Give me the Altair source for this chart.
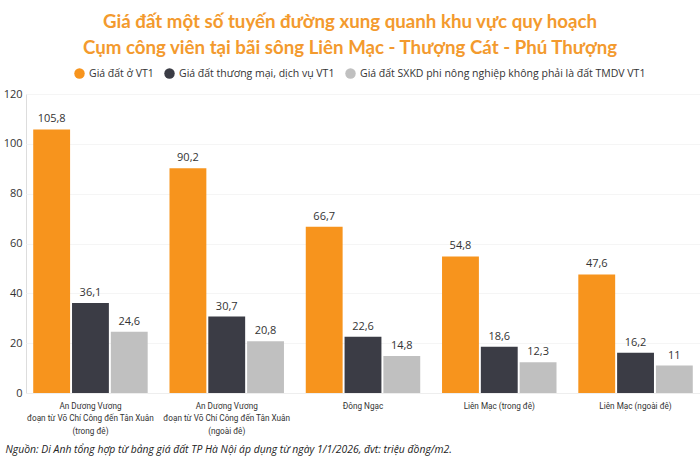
import altair as alt
import pandas as pd

# Road segments (x-axis groups); "|" marks a line break in the axis label
roads = [
    "An Dương Vương|đoạn từ Võ Chí Công đến Tân Xuân|(trong đê)",
    "An Dương Vương|đoạn từ Võ Chí Công đến Tân Xuân|(ngoài đê)",
    "Đông Ngạc",
    "Liên Mạc (trong đê)",
    "Liên Mạc (ngoài đê)",
]

series = [
    "Giá đất ở VT1",
    "Giá đất thương mại, dịch vụ VT1",
    "Giá đất SXKD phi nông nghiệp không phải là đất TMDV VT1",
]
colors = ["#F7941D", "#3B3C45", "#C0C0C0"]

# Prices, million VND per m2
residential = [105.8, 90.2, 66.7, 54.8, 47.6]
commercial = [36.1, 30.7, 22.6, 18.6, 16.2]
non_agri = [24.6, 20.8, 14.8, 12.3, 11.0]

rows = []
for vals, name in zip([residential, commercial, non_agri], series):
    for road, v in zip(roads, vals):
        txt = f"{v:g}".replace(".", ",")
        rows.append({"road": road, "series": name, "value": v, "label": txt})
df = pd.DataFrame(rows)

LEFT, TOP = 26, 94
W, H = 674, 299

x_enc = alt.X(
    "road:N",
    sort=roads,
    scale=alt.Scale(paddingInner=0.16, paddingOuter=0.053),
    axis=alt.Axis(
        title="Nguồn: Di Anh tổng hợp từ bảng giá đất TP Hà Nội áp dụng từ ngày 1/1/2026, đvt: triệu đồng/m2.",
        titleFont="Open Sans",
        titleFontSize=10.4,
        titleFontWeight="normal",
        titleFontStyle="italic",
        titleColor="#222222",
        titleAnchor="start",
        titleAlign="left",
        titleBaseline="middle",
        titleX=-21,
        titleY=56,
        labelAngle=0,
        labelExpr="split(datum.label, '|')",
        labelFont="Roboto",
        labelFontSize=8.2,
        labelColor="#333333",
        labelLineHeight=12.5,
        labelPadding=9,
        labelLimit=250,
        ticks=False,
        domain=True,
        domainColor="#eeeeee",
    ),
)
xo_enc = alt.XOffset(
    "series:N", sort=series, scale=alt.Scale(paddingInner=0.05)
)

bars = alt.Chart(df).mark_bar().encode(
    x=x_enc,
    xOffset=xo_enc,
    y=alt.Y(
        "value:Q",
        scale=alt.Scale(domain=[0, 120]),
        axis=alt.Axis(
            title=None,
            values=[0, 20, 40, 60, 80, 100, 120],
            labelFont="Open Sans",
            labelFontSize=11,
            labelColor="#333333",
            labelPadding=4,
            ticks=False,
            domain=False,
            grid=True,
            gridColor="#f5f5f5",
        ),
    ),
    color=alt.Color(
        "series:N",
        sort=series,
        scale=alt.Scale(domain=series, range=colors),
        legend=alt.Legend(
            title=None,
            orient="none",
            legendX=48,
            legendY=-26,
            direction="horizontal",
            symbolType="circle",
            symbolSize=110,
            symbolStrokeWidth=0,
            labelFont="Open Sans",
            labelFontSize=10.5,
            labelColor="#333333",
            columnPadding=10,
            labelLimit=400,
        ),
    ),
)

labels = alt.Chart(df).mark_text(
    dy=-10, font="Open Sans", fontSize=11, color="#333333"
).encode(
    x=alt.X("road:N", sort=roads),
    xOffset=alt.XOffset("series:N", sort=series),
    y="value:Q",
    text="label:N",
)

chart = (
    alt.layer(bars, labels)
    .properties(
        width=W,
        height=H,
        autosize=alt.AutoSizeParams(type="none"),
        padding={"left": LEFT, "top": TOP, "right": 0, "bottom": 467 - TOP - H},
        title=alt.TitleParams(
            text=[
                "Giá đất một số tuyến đường xung quanh khu vực quy hoạch",
                "Cụm công viên tại bãi sông Liên Mạc - Thượng Cát - Phú Thượng",
            ],
            font="Lato",
            fontSize=18.7,
            fontWeight="bold",
            color="#F39A2E",
            anchor="middle",
            lineHeight=26,
            offset=10,
            dx=-13,
        ),
    )
    .configure_view(stroke=None)
    .configure(background="white")
)

chart.save("out.html", embed_options={"renderer": "svg", "actions": False})
